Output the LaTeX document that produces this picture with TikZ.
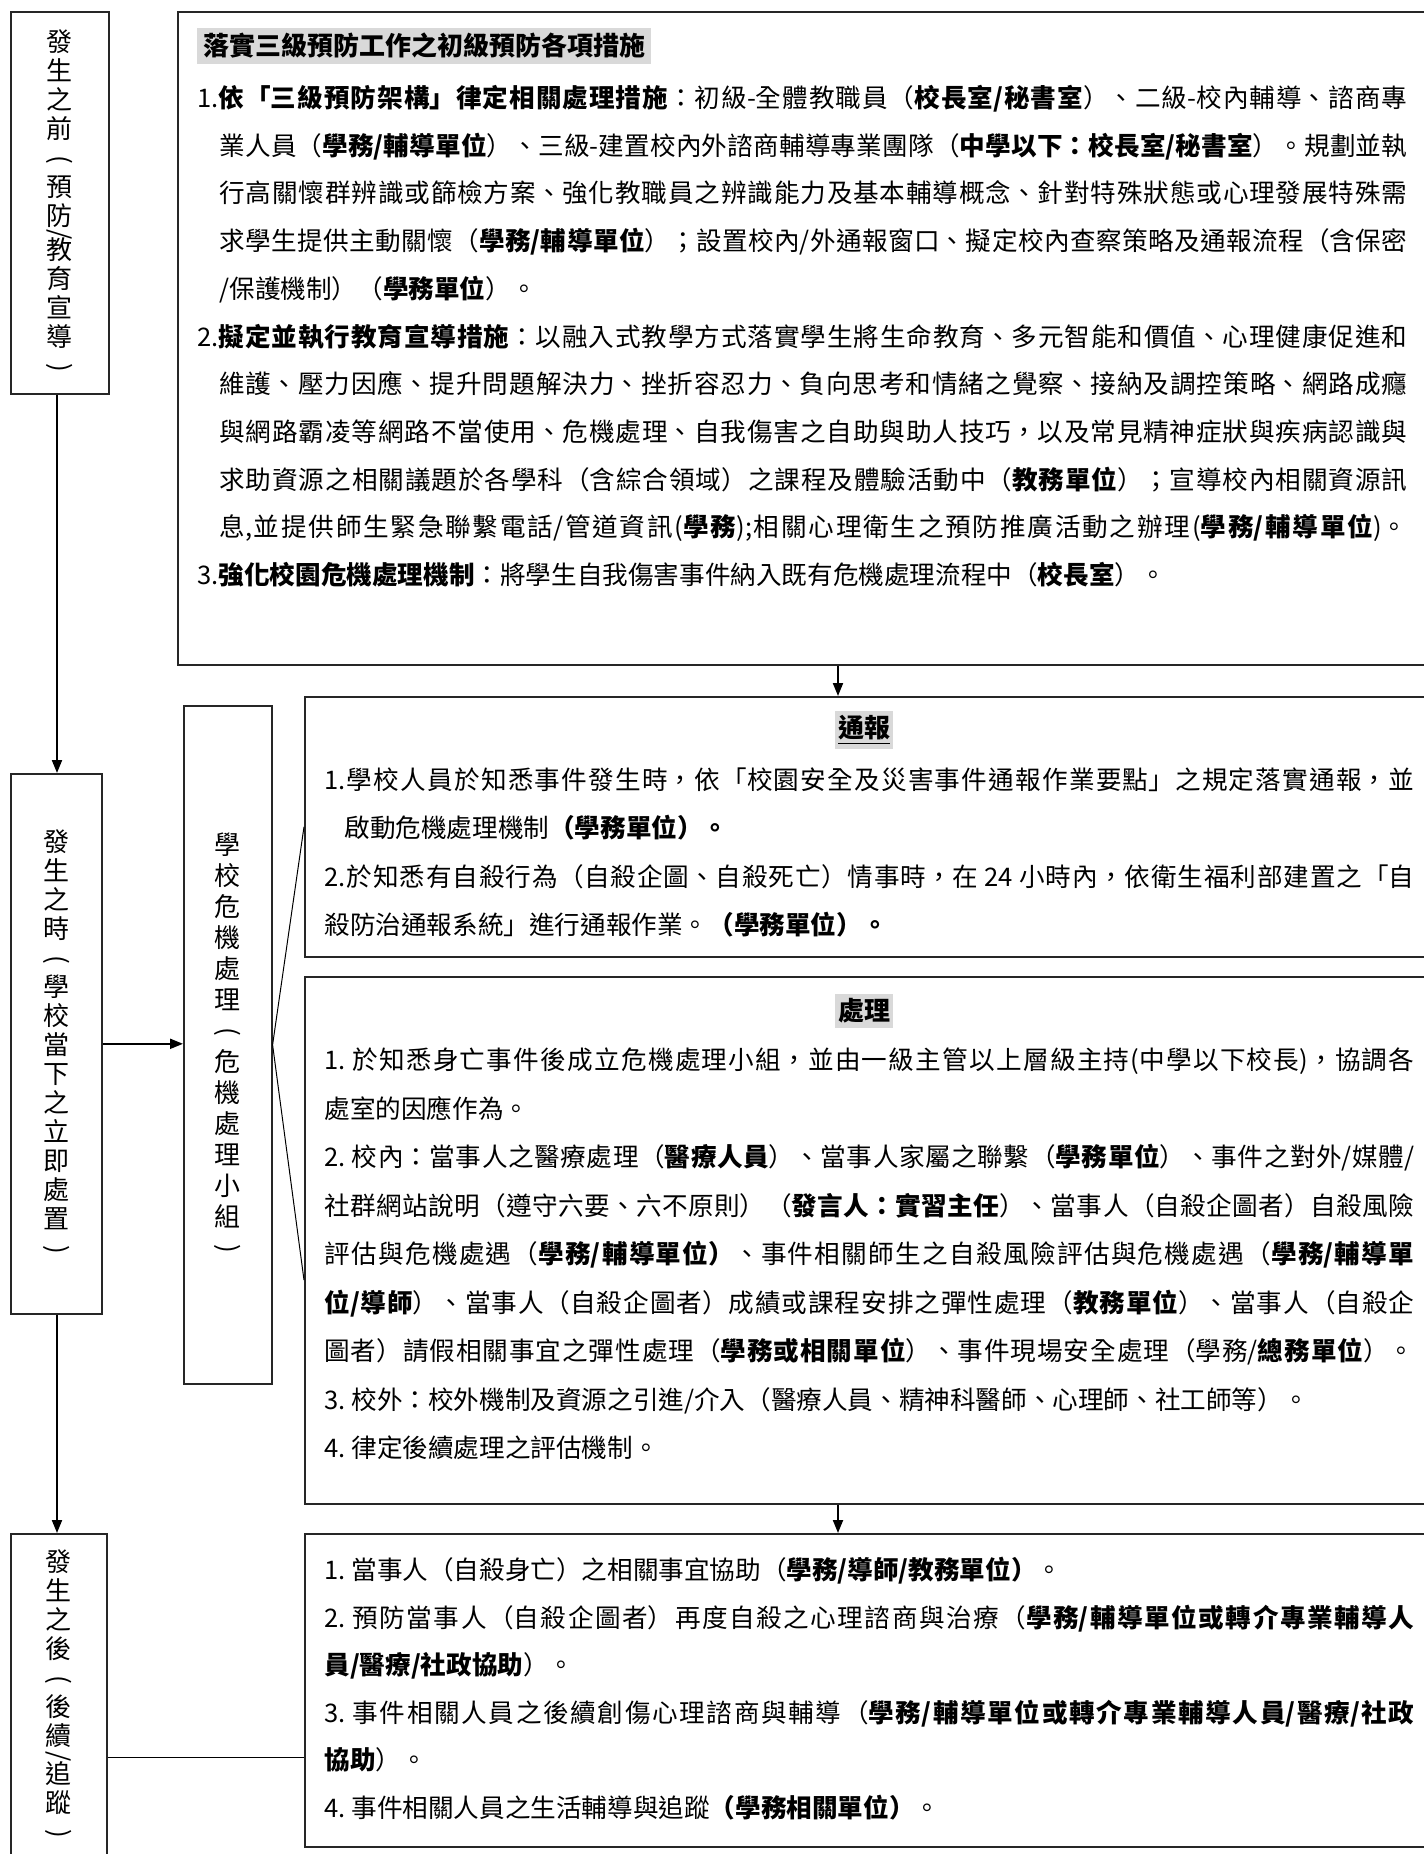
\documentclass[tikz,border=0pt]{standalone}
\usepackage{fontspec}
\setmainfont{Noto Sans CJK TC}
\usepackage{graphicx}
\usetikzlibrary{arrows.meta,positioning,calc}
\XeTeXlinebreaklocale "zh"
\XeTeXlinebreakskip=0pt plus 2pt
\XeTeXlinebreakpenalty=10000
\definecolor{hlgray}{HTML}{D9D9D9}
\newcommand{\vslash}{\rotatebox[origin=c]{-90}{/}}
\newcommand{\vopen}{\rotatebox[origin=c]{-90}{(}}
\newcommand{\vclose}{\rotatebox[origin=c]{-90}{)}}
\newcommand{\hangitem}[1]{\hangindent=#1\hangafter=1\noindent}

\begin{document}
\begin{tikzpicture}[x=0.5pt,y=-0.5pt,
	>={Triangle[length=6.5pt,width=5pt]},
	box/.style={draw=black!85,line width=0.8pt,anchor=north west,inner sep=0pt},
	vlabel/.style={box,align=center,font=\fontsize{13}{14.5}\selectfont},
	body/.style={anchor=base west,inner sep=0pt,align=justify,font=\fontsize{12.8}{#1}\selectfont},
	headline/.style={fill=hlgray,font=\fontsize{13}{13}\selectfont\bfseries,inner xsep=1.5pt,inner ysep=2.5pt},
	link/.style={->,line width=1pt},
	fan/.style={line width=0.5pt}]

	\useasboundingbox (0,0) rectangle (1424,1854);
	\clip (0,0) rectangle (1424,1854);

	% left column
	\node[vlabel,minimum width=49pt,minimum height=191pt] (before) at (10,11)
		{發\\生\\之\\前\\\vopen\\預\\防\\[-6pt]\vslash\\[-6pt]教\\育\\宣\\導\\\vclose};
	\node[vlabel,minimum width=45.5pt,minimum height=270pt] (during) at (10,773)
		{發\\生\\之\\時\\\vopen\\學\\校\\當\\下\\之\\立\\即\\處\\置\\\vclose};
	\node[vlabel,minimum width=48pt,minimum height=162pt] (after) at (10,1533)
		{發\\生\\之\\後\\\vopen\\後\\續\\[-5pt]\vslash\\[-5pt]追\\蹤\\\vclose};
	\node[vlabel,minimum width=44pt,minimum height=339pt,font=\fontsize{13}{15.5}\selectfont] (crisis) at (183,705)
		{學\\校\\危\\機\\處\\理\\\vopen\\危\\機\\處\\理\\小\\組\\\vclose};

	% right column boxes
	\node[box,minimum width=631.5pt,minimum height=326.5pt] (prevent) at (177,11) {};
	\node[box,minimum width=568pt,minimum height=130pt] (notify) at (304,696) {};
	\node[box,minimum width=568pt,minimum height=263.5pt] (handle) at (304,976) {};
	\node[box,minimum width=568pt,minimum height=156.5pt] (follow) at (304,1533) {};

	% prevention
	\node[headline,anchor=west,inner xsep=3pt] (preTitle) at (197,46) {落實三級預防工作之初級預防各項措施};
	\node[body=23.85pt,text width=605pt] (preText) at (197,107.5) {%
		\hangitem{11pt}1.\textbf{依「三級預防架構」律定相關處理措施}：初級-全體教職員（\textbf{校長室/秘書室}）、二級-校內輔導、諮商專\linebreak
		業人員（\textbf{學務/輔導單位}）、三級-建置校內外諮商輔導專業團隊（\textbf{中學以下：校長室/秘書室}）。規劃並執\linebreak
		行高關懷群辨識或篩檢方案、強化教職員之辨識能力及基本輔導概念、針對特殊狀態或心理發展特殊需\linebreak
		求學生提供主動關懷（\textbf{學務/輔導單位}）；設置校內/外通報窗口、擬定校內查察策略及通報流程（含保密\linebreak
		/保護機制）（\textbf{學務單位}）。\par
		\hangitem{11pt}2.\textbf{擬定並執行教育宣導措施}：以融入式教學方式落實學生將生命教育、多元智能和價值、心理健康促進和\linebreak
		維護、壓力因應、提升問題解決力、挫折容忍力、負向思考和情緒之覺察、接納及調控策略、網路成癮\linebreak
		與網路霸凌等網路不當使用、危機處理、自我傷害之自助與助人技巧，以及常見精神症狀與疾病認識與\linebreak
		求助資源之相關議題於各學科（含綜合領域）之課程及體驗活動中（\textbf{教務單位}）；宣導校內相關資源訊\linebreak
		息,並提供師生緊急聯繫電話/管道資訊(\textbf{學務});相關心理衛生之預防推廣活動之辦理(\textbf{學務/輔導單位})。{\parfillskip=0pt\par}
		\hangitem{11pt}3.\textbf{強化校園危機處理機制}：將學生自我傷害事件納入既有危機處理流程中（\textbf{校長室}）。};

	% notification
	\node[headline] (notifyTitle) at (864,730) {\underline{通報}};
	\node[body=24.15pt,text width=545pt] (notifyText) at (324,789.5) {%
		\hangitem{10pt}1.學校人員於知悉事件發生時，依「校園安全及災害事件通報作業要點」之規定落實通報，並\linebreak
		啟動危機處理機制\textbf{（學務單位）。}\par
		\hangitem{10pt}2.於知悉有自殺行為（自殺企圖、自殺死亡）情事時，在~24~小時內，依衛生福利部建置之「自\linebreak
		殺防治通報系統」進行通報作業。\textbf{（學務單位）。}};

	% handling
	\node[headline] (handleTitle) at (864,1011) {處理};
	\node[body=24.25pt,text width=545pt] (handleText) at (324,1069.5) {%
		1.~於知悉身亡事件後成立危機處理小組，並由一級主管以上層級主持(中學以下校長)，協調各\linebreak
		處室的因應作為。\par
		2.~校內：當事人之醫療處理（\textbf{醫療人員}）、當事人家屬之聯繫（\textbf{學務單位}）、事件之對外/媒體/\linebreak
		社群網站說明（遵守六要、六不原則）（\textbf{發言人：實習主任}）、當事人（自殺企圖者）自殺風險\linebreak
		評估與危機處遇（\textbf{學務/輔導單位）}、事件相關師生之自殺風險評估與危機處遇（\textbf{學務/輔導單\linebreak
		位/導師}）、當事人（自殺企圖者）成績或課程安排之彈性處理（\textbf{教務單位}）、當事人（自殺企\linebreak
		圖者）請假相關事宜之彈性處理（\textbf{學務或相關單位}）、事件現場安全處理（學務/\textbf{總務單位}）。{\parfillskip=0pt\par}
		3.~校外：校外機制及資源之引進/介入（醫療人員、精神科醫師、心理師、社工師等）。\par
		4.~律定後續處理之評估機制。};

	% follow-up
	\node[body=23.8pt,text width=545pt] (followText) at (324,1579.5) {%
		1.~當事人（自殺身亡）之相關事宜協助（\textbf{學務/導師/教務單位）}。\par
		2.~預防當事人（自殺企圖者）再度自殺之心理諮商與治療（\textbf{學務/輔導單位或轉介專業輔導人\linebreak
		員/醫療/社政協助}）。\par
		3.~事件相關人員之後續創傷心理諮商與輔導（\textbf{學務/輔導單位或轉介專業輔導人員/醫療/社政\linebreak
		協助}）。\par
		4.~事件相關人員之生活輔導與追蹤\textbf{（學務相關單位）}。};

	% connectors
	\coordinate (lane) at (57,0);
	\coordinate (spine) at (838,0);
	\coordinate (fanLow) at (304,1280);
	\coordinate (tie) at (0,1757);
	\draw[link] (before.south -| lane) -- (during.north -| lane);
	\draw[link] (during.south -| lane) -- (after.north -| lane);
	\draw[link] (during.east) -- (during.east -| crisis.west);
	\draw[link] (prevent.south -| spine) -- (notify.north -| spine);
	\draw[link] (handle.south -| spine) -- (follow.north -| spine);
	\draw[fan] (notify.west) -- (crisis.east) -- (fanLow);
	\draw[fan] (after.east |- tie) -- (follow.west |- tie);
\end{tikzpicture}
\end{document}
